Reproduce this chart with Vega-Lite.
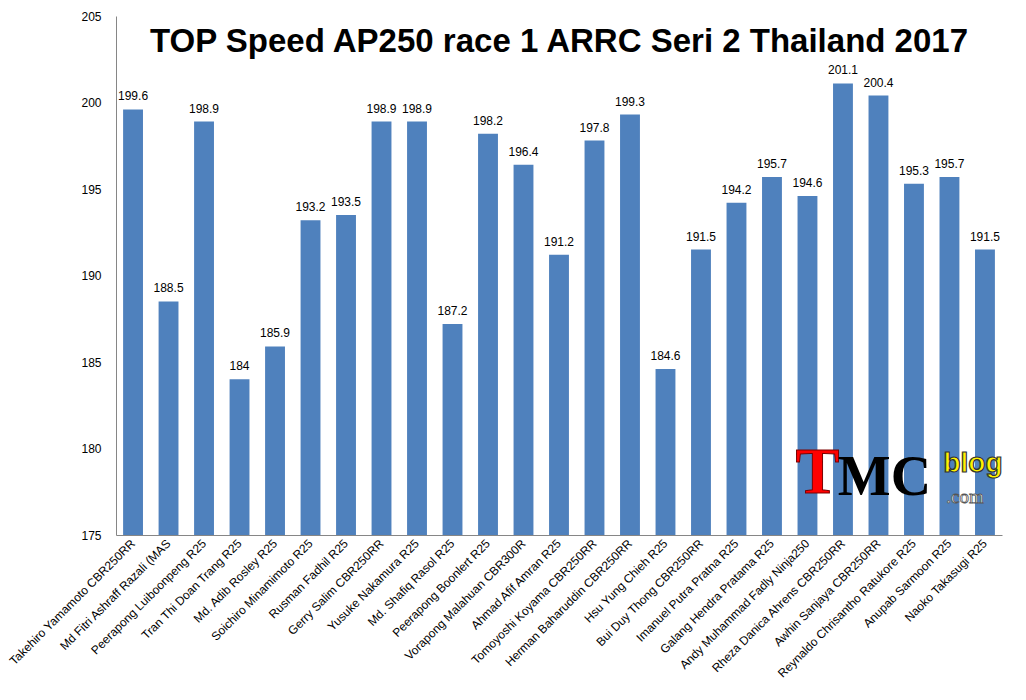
{
  "$schema": "https://vega.github.io/schema/vega-lite/v6.json",
  "autosize": "none",
  "width": 886,
  "height": 519,
  "padding": {"left": 116, "top": 16, "right": 24, "bottom": 165},
  "background": "white",
  "title": {
    "text": "TOP Speed AP250 race 1 ARRC Seri 2 Thailand 2017",
    "font": "Liberation Sans",
    "fontSize": 33,
    "fontWeight": "bold",
    "color": "black",
    "anchor": "middle",
    "frame": "group",
    "baseline": "alphabetic",
    "offset": 0,
    "dy": 75
  },
  "config": {
    "view": {"stroke": null},
    "font": "Liberation Sans"
  },
  "data": {
    "values": [
      {"rider": "Takehiro Yamamoto  CBR250RR", "speed": 199.6},
      {"rider": "Md Fitri Ashraff Razali (MAS", "speed": 188.5},
      {"rider": "Peerapong Luiboonpeng R25", "speed": 198.9},
      {"rider": "Tran Thi  Doan Trang  R25", "speed": 184},
      {"rider": "Md. Adib Rosley R25", "speed": 185.9},
      {"rider": "Soichiro Minamimoto  R25", "speed": 193.2},
      {"rider": "Rusman  Fadhil R25", "speed": 193.5},
      {"rider": "Gerry Salim CBR250RR", "speed": 198.9},
      {"rider": "Yusuke Nakamura  R25", "speed": 198.9},
      {"rider": "Md. Shafiq Rasol R25", "speed": 187.2},
      {"rider": "Peerapong Boonlert R25", "speed": 198.2},
      {"rider": "Vorapong Malahuan  CBR300R", "speed": 196.4},
      {"rider": "Ahmad Afif Amran R25", "speed": 191.2},
      {"rider": "Tomoyoshi  Koyama CBR250RR", "speed": 197.8},
      {"rider": "Herman Baharuddin CBR250RR", "speed": 199.3},
      {"rider": "Hsu Yung Chieh R25", "speed": 184.6},
      {"rider": "Bui Duy Thong CBR250RR", "speed": 191.5},
      {"rider": "Imanuel Putra Pratna R25", "speed": 194.2},
      {"rider": "Galang  Hendra Pratama R25", "speed": 195.7},
      {"rider": "Andy Muhammad  Fadly Ninja250", "speed": 194.6},
      {"rider": "Rheza Danica Ahrens CBR250RR", "speed": 201.1},
      {"rider": "Awhin Sanjaya  CBR250RR", "speed": 200.4},
      {"rider": "Reynaldo Chrisantho Ratukore R25", "speed": 195.3},
      {"rider": "Anupab Sarmoon R25", "speed": 195.7},
      {"rider": "Naoko Takasugi R25", "speed": 191.5}
    ]
  },
  "encoding": {
    "x": {
      "field": "rider",
      "type": "nominal",
      "sort": null,
      "title": null,
      "scale": {"paddingInner": 0.44, "paddingOuter": 0.2},
      "axis": {
        "labelAngle": -45,
        "labelAlign": "right",
        "labelBaseline": "middle",
        "labelFontSize": 12,
        "labelColor": "black",
        "labelPadding": 6,
        "labelLimit": 300,
        "ticks": false,
        "domainColor": "#868686"
      }
    },
    "y": {
      "field": "speed",
      "type": "quantitative",
      "title": null,
      "scale": {"domain": [175, 205], "zero": false},
      "axis": {
        "values": [175, 180, 185, 190, 195, 200, 205],
        "grid": false,
        "ticks": false,
        "labelFontSize": 12,
        "labelColor": "black",
        "labelPadding": 15,
        "domainColor": "#868686"
      }
    }
  },
  "layer": [
    {
      "mark": {"type": "bar", "color": "#4F81BD"},
      "encoding": {"y2": {"datum": 175}}
    },
    {
      "mark": {"type": "text", "baseline": "bottom", "dy": -6, "fontSize": 12, "color": "black"},
      "encoding": {"text": {"field": "speed", "type": "quantitative"}}
    },
    {
      "transform": [{"filter": "datum.rider === 'Andy Muhammad  Fadly Ninja250'"}],
      "mark": {"type": "text", "font": "Liberation Serif", "fontSize": 66, "fontWeight": "bold", "color": "#FF0000", "stroke": "#7a0000", "strokeWidth": 1, "baseline": "middle", "dx": 10},
      "encoding": {"y": {"datum": 178.6}, "text": {"value": "T"}}
    },
    {
      "transform": [{"filter": "datum.rider === 'Awhin Sanjaya  CBR250RR'"}],
      "mark": {"type": "text", "font": "Liberation Serif", "fontSize": 56, "fontWeight": "bold", "color": "black", "baseline": "middle", "dx": 6},
      "encoding": {"y": {"datum": 178.3}, "text": {"value": "MC"}}
    },
    {
      "transform": [{"filter": "datum.rider === 'Naoko Takasugi R25'"}],
      "mark": {"type": "text", "font": "Liberation Sans", "fontSize": 28, "fontWeight": "bold", "color": "#FFF200", "stroke": "#333333", "strokeWidth": 1.2, "baseline": "middle", "dx": -12},
      "encoding": {"y": {"datum": 179.1}, "text": {"value": "blog"}}
    },
    {
      "transform": [{"filter": "datum.rider === 'Naoko Takasugi R25'"}],
      "mark": {"type": "text", "font": "Liberation Serif", "fontSize": 19, "color": "white", "stroke": "#555555", "strokeWidth": 0.8, "baseline": "middle", "dx": -20},
      "encoding": {"y": {"datum": 177.2}, "text": {"value": ".com"}}
    }
  ]
}
